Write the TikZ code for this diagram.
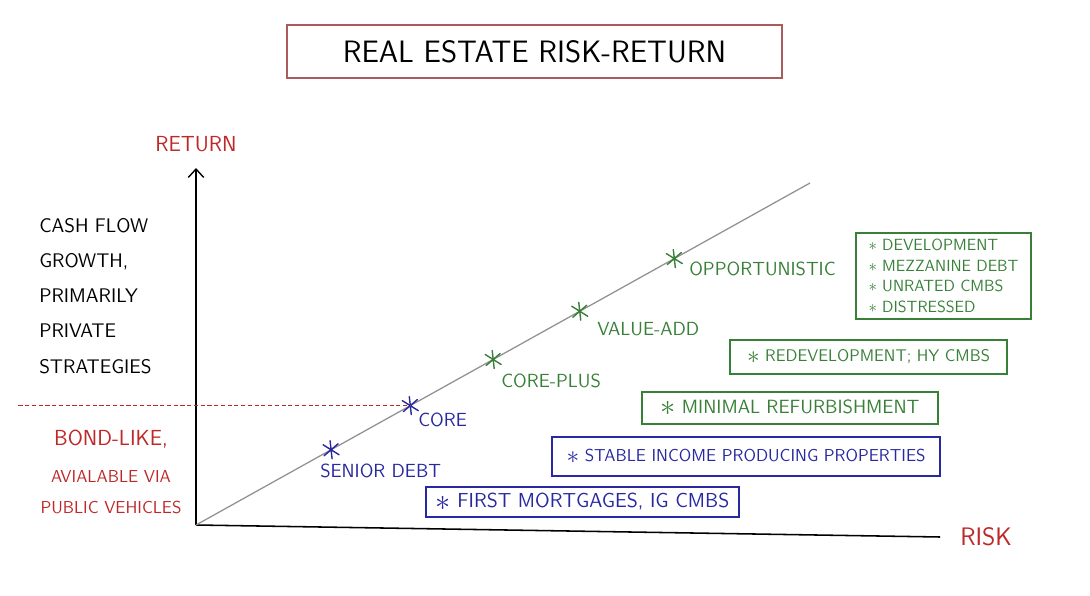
\documentclass[tikz,border=0pt]{standalone}
\usepackage{tikz}
\usetikzlibrary{positioning,arrows.meta}
\definecolor{redpen}{RGB}{190,40,40}
\definecolor{greenpen}{RGB}{56,128,56}
\definecolor{bluepen}{RGB}{40,40,160}
\definecolor{titlered}{RGB}{170,92,92}
\definecolor{linegray}{RGB}{145,145,145}

% sans "pen" text at a given size and line distance (pt)
\newcommand{\penfont}[2]{\sffamily\fontsize{#1}{#2}\selectfont}
% bullet star in front of each strategy
\newcommand{\stratstar}[1][1.5]{\raisebox{-0.1em}{\scalebox{#1}{$\ast$}}}

\tikzset{
    handtext/.style={inner sep=0pt, font=\penfont{13.5}{16}},
    stratbox/.style={draw, line width=1.1pt, inner sep=0pt, align=left},
    starmark/.pic={
        \draw[line width=1pt, line cap=round] (-8,-5) -- (8,5) (-7,6) -- (7,-6) (-1,-9) -- (1,9);
    }
}

\begin{document}
\begin{tikzpicture}[x=0.025cm, y=-0.025cm]
    % whiteboard frame, 1090 x 596 px
    \useasboundingbox (0,0) rectangle (1090,596);

    % title box
    \node[draw=titlered, line width=1.3pt, minimum width=12.375cm, minimum height=1.325cm,
          font=\penfont{22}{26}] (title) at (534.5,51.5) {REAL ESTATE RISK-RETURN};

    % axes
    \coordinate (origin) at (196,525);
    \coordinate (ytop) at (196,168);
    \coordinate (xend) at (940,537);
    \coordinate (diagend) at (810,183);
    \draw[line width=1pt, -{Straight Barb[length=6pt,width=11pt]}] (origin) -- (ytop);
    \draw[line width=1.1pt] (origin) -- (xend);
    \node[handtext, redpen, font=\penfont{15.5}{18}, above=0.4cm of ytop] (returnlabel) {RETURN};
    \node[handtext, redpen, font=\penfont{18}{20}, right=0.5cm of xend] (risklabel) {RISK};

    % risk-return line with the strategies on it
    \draw[linegray, line width=0.9pt] (origin) -- (diagend)
        coordinate[pos=0.220] (senior)
        coordinate[pos=0.349] (core)
        coordinate[pos=0.484] (coreplus)
        coordinate[pos=0.625] (valueadd)
        coordinate[pos=0.779] (opport);
    \foreach \pt/\col in {senior/bluepen, core/bluepen, coreplus/greenpen, valueadd/greenpen, opport/greenpen}
        \pic[color=\col] at (\pt) {starmark};

    \node[handtext, bluepen, anchor=west] (seniorlabel) at (320,471) {SENIOR DEBT};
    \node[handtext, bluepen, anchor=west] (corelabel) at (418,420) {CORE};
    \node[handtext, greenpen, anchor=west] (corepluslabel) at (501,381) {CORE-PLUS};
    \node[handtext, greenpen, anchor=west] (valueaddlabel) at (597,329) {VALUE-ADD};
    \node[handtext, greenpen, anchor=west] (opportlabel) at (689,269) {OPPORTUNISTIC};

    % public / private split
    \path (core) ++(-392,0) coordinate (dashstart);
    \draw[redpen, line width=1pt, dash pattern=on 3pt off 1.8pt] (dashstart) -- (core);

    \node[handtext, anchor=west, align=left, font=\penfont{14}{25}] (privatenote) at (39,296)
        {CASH FLOW\\GROWTH,\\PRIMARILY\\PRIVATE\\STRATEGIES};
    \node[handtext, redpen, align=center, font=\penfont{12.3}{22}] (publicnote) at (111,472)
        {{\fontsize{15.5}{18}\selectfont BOND-LIKE,}\\[4pt]AVIALABLE VIA\\PUBLIC VEHICLES};

    % strategy boxes
    \node[stratbox, greenpen, minimum width=4.375cm, minimum height=2.15cm, font=\penfont{11.5}{14.6}] (oppbox) at (943.5,276)
        {$\ast$ DEVELOPMENT\\$\ast$ MEZZANINE DEBT\\$\ast$ UNRATED CMBS\\$\ast$ DISTRESSED};
    \node[stratbox, greenpen, minimum width=6.925cm, minimum height=0.85cm, font=\penfont{12}{14}] (redevbox) at (868.5,357)
        {\stratstar{} REDEVELOPMENT; HY CMBS};
    \node[stratbox, greenpen, minimum width=7.4cm, minimum height=0.8cm, font=\penfont{13.6}{16}] (refurbbox) at (790,408)
        {\stratstar{} MINIMAL REFURBISHMENT};
    \node[stratbox, bluepen, minimum width=9.7cm, minimum height=0.975cm, font=\penfont{12.3}{15}] (stablebox) at (746,456.5)
        {\stratstar{} STABLE INCOME PRODUCING PROPERTIES};
    \node[stratbox, bluepen, minimum width=7.825cm, minimum height=0.75cm, font=\penfont{14.4}{17}] (mortbox) at (582.5,502)
        {\stratstar{} FIRST MORTGAGES, IG CMBS};

\end{tikzpicture}
\end{document}
